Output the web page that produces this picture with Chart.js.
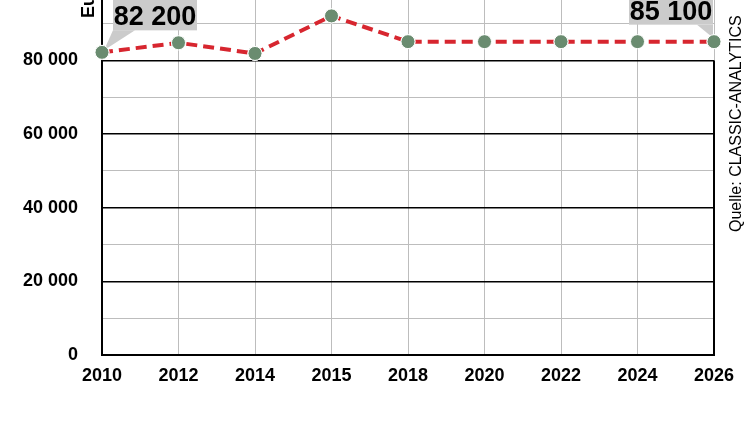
<!DOCTYPE html>
<html>
<head>
<meta charset="utf-8">
<script src="https://cdn.jsdelivr.net/npm/chart.js@4"></script>
<style>
  html, body { margin: 0; padding: 0; background: #fff; overflow: hidden; }
  #wrap { position: absolute; left: 0; top: -48px; width: 750px; height: 469px; }
</style>
</head>
<body>
<div id="wrap"><canvas id="chart" width="750" height="469"></canvas></div>
<script>
// data
const years = ['2010', '2012', '2014', '2015', '2018', '2020', '2022', '2024', '2026'];
const values = [82200, 84800, 81900, 92100, 85100, 85100, 85100, 85100, 85100];
const calloutIdx = [0, 8];
const unitTitle = 'Euro';
const sourceText = 'Quelle: CLASSIC-ANALYTICS';

const fmt = v => String(v).replace(/\B(?=(\d{3})+(?!\d))/g, ' ');

const extras = {
  id: 'extras',
  afterDatasetsDraw(chart) {
    const ctx = chart.ctx;
    const pts = chart.getDatasetMeta(0).data;
    ctx.save();
    ctx.font = 'bold 27px "Liberation Sans", Arial, sans-serif';
    ctx.textBaseline = 'alphabetic';
    ctx.textAlign = 'center';
    calloutIdx.forEach((i, k) => {
      const p = pts[i];
      const txt = fmt(values[i]);
      const w = 84, h = 34;
      let left, bottom, tri;
      if (k === 0) {
        left = p.x + 11; bottom = p.y - 22;
        tri = [[left, bottom], [left + 22, bottom], [p.x + 2, p.y - 2]];
      } else {
        left = p.x - w - 1; bottom = p.y - 17;
        tri = [[left + w - 16, bottom], [left + w, bottom], [p.x - 1, p.y - 4]];
      }
      ctx.fillStyle = '#cbcbcb';
      ctx.fillRect(left, bottom - h, w, h);
      ctx.beginPath();
      ctx.moveTo(tri[0][0], tri[0][1]);
      ctx.lineTo(tri[1][0], tri[1][1]);
      ctx.lineTo(tri[2][0], tri[2][1]);
      ctx.closePath();
      ctx.fill();
      ctx.fillStyle = '#000';
      ctx.fillText(txt, left + w / 2, bottom - 5);
    });
    // redraw points on top of pointers
    pts.forEach(p => p.draw(ctx, chart.chartArea));

    // unit title (rotated) and source note
    ctx.fillStyle = '#000';
    ctx.font = 'bold 18px "Liberation Sans", Arial, sans-serif';
    ctx.translate(94, 66);
    ctx.rotate(-Math.PI / 2);
    ctx.textAlign = 'left';
    ctx.fillText(unitTitle, 0, 0);
    ctx.setTransform(1, 0, 0, 1, 0, 0);
    ctx.font = '16px "Liberation Sans", Arial, sans-serif';
    ctx.translate(741, 280);
    ctx.rotate(-Math.PI / 2);
    ctx.fillText(sourceText, 0, 0);
    ctx.restore();
  }
};

new Chart(document.getElementById('chart'), {
  type: 'line',
  data: {
    labels: years,
    datasets: [{
      data: values,
      borderColor: '#d7262f',
      borderWidth: 4,
      borderDash: [11, 6],
      pointRadius: 7,
      pointBackgroundColor: '#6a8c70',
      pointBorderColor: '#ffffff',
      pointBorderWidth: 1,
      tension: 0,
      clip: false
    }]
  },
  options: {
    responsive: false,
    animation: false,
    layout: { autoPadding: false, padding: { top: 26, right: 36, left: 0, bottom: 0 } },
    plugins: { legend: { display: false }, tooltip: { enabled: false } },
    scales: {
      x: {
        offset: false,
        grid: { color: '#bdbdbd', lineWidth: 1, drawTicks: false },
        border: { color: '#000', width: 2 },
        ticks: {
          color: '#000',
          padding: 10,
          maxRotation: 0,
          font: { family: '"Liberation Sans Narrow", "Liberation Sans", Arial', size: 18, weight: 'bold' }
        },
        afterFit(s) { s.height = 66; }
      },
      y: {
        min: 0,
        max: 100000,
        grid: {
          drawTicks: false,
          color: c => (c.tick.value % 20000 === 0 ? '#000' : '#bdbdbd'),
          lineWidth: c => (c.tick.value % 20000 === 0 ? 1.5 : 1)
        },
        border: { color: '#000', width: 2 },
        ticks: {
          stepSize: 10000,
          color: '#000',
          padding: 24,
          font: { family: '"Liberation Sans", Arial', size: 18, weight: 'bold' },
          callback: v => (v % 20000 === 0 && v < 100000 ? fmt(v) : '')
        },
        afterFit(s) { s.width = 102; }
      }
    }
  },
  plugins: [extras, {
    id: 'rightBorder',
    beforeDatasetsDraw(chart) {
      const { ctx, chartArea: a } = chart;
      ctx.save();
      ctx.strokeStyle = '#000';
      ctx.lineWidth = 2;
      ctx.beginPath();
      ctx.moveTo(a.right, a.bottom);
      ctx.lineTo(a.right, chart.scales.y.getPixelForValue(80000));
      ctx.stroke();
      ctx.restore();
    }
  }]
});
</script>
</body>
</html>
